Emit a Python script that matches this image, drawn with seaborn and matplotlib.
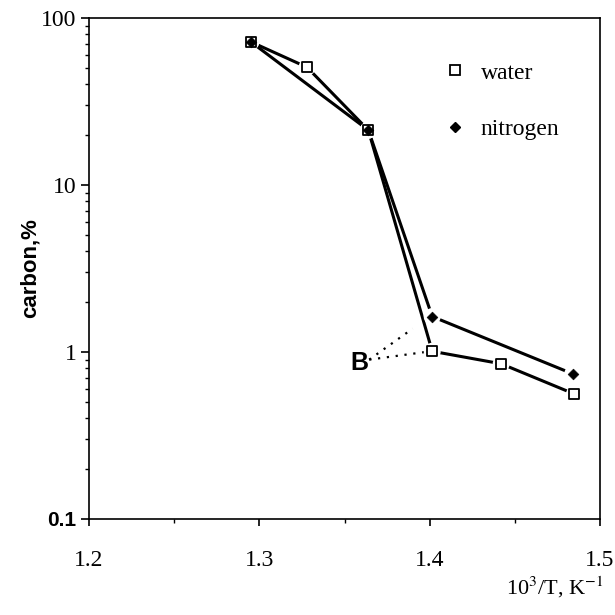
import matplotlib
matplotlib.use("Agg")
import matplotlib.pyplot as plt
import seaborn as sns
import pandas as pd
from matplotlib.lines import Line2D
from matplotlib.ticker import FixedLocator, FixedFormatter, NullFormatter, LogLocator

# ---- data ----
water_x = [1.295, 1.328, 1.364, 1.4015, 1.442, 1.485]
water_y = [72, 50.7, 21.3, 1.01, 0.85, 0.56]
nitrogen_x = [1.295, 1.364, 1.4015, 1.484]
nitrogen_y = [72, 21.3, 1.63, 0.74]
series_names = ["water", "nitrogen"]
x_ticks = [1.2, 1.3, 1.4, 1.5]
x_tick_labels = ["1.2", "1.3", "1.4", "1.5"]
y_ticks = [0.1, 1, 10, 100]
y_tick_labels = ["0.1", "1", "10", "100"]
annot_label = "B"

sns.set_theme(style="ticks")
plt.rcParams["font.family"] = ["Liberation Serif", "DejaVu Serif"]
plt.rcParams["mathtext.fontset"] = "stix"
plt.rcParams["text.color"] = "black"
plt.rcParams["axes.labelcolor"] = "black"
plt.rcParams["xtick.color"] = "black"
plt.rcParams["ytick.color"] = "black"

df = pd.concat([
    pd.DataFrame({"x": water_x, "y": water_y, "series": series_names[0]}),
    pd.DataFrame({"x": nitrogen_x, "y": nitrogen_y, "series": series_names[1]}),
])

fig = plt.figure(figsize=(6.15, 6.15), dpi=100)
ax = fig.add_axes([89/615, 1-519/615, 511/615, 501/615])

# lines
sns.lineplot(data=df, x="x", y="y", hue="series", palette=["black", "black"],
             sort=False, estimator=None, lw=2.2, legend=False, ax=ax, zorder=2)
# white halos to create gaps around markers
sns.scatterplot(data=df, x="x", y="y", marker="o", s=150, color="white",
                edgecolor="none", legend=False, ax=ax, zorder=3)
# markers
wdf = df[df.series == series_names[0]]
ndf = df[df.series == series_names[1]]
sns.scatterplot(data=wdf, x="x", y="y", marker="s", s=60, facecolor="white",
                edgecolor="black", linewidth=1.3, legend=False, ax=ax, zorder=4)
sns.scatterplot(data=ndf, x="x", y="y", marker="D", s=30, color="black",
                edgecolor="black", legend=False, ax=ax, zorder=5)

ax.set_yscale("log")
ax.set_xlim(1.2, 1.5)
ax.set_ylim(0.1, 100)

ax.xaxis.set_major_locator(FixedLocator(x_ticks))
ax.xaxis.set_major_formatter(FixedFormatter(x_tick_labels))
ax.xaxis.set_minor_locator(FixedLocator([1.25, 1.35, 1.45]))
ax.yaxis.set_major_locator(FixedLocator(y_ticks))
ax.yaxis.set_major_formatter(FixedFormatter(y_tick_labels))
ax.yaxis.set_minor_locator(LogLocator(base=10, subs=range(2, 10)))
ax.yaxis.set_minor_formatter(NullFormatter())

ax.tick_params(axis="x", which="major", direction="out", length=5, width=1.2,
               pad=17, labelsize=17, colors="black")
ax.tick_params(axis="x", which="minor", direction="out", length=3, width=1)
ax.tick_params(axis="y", which="major", direction="out", length=6, width=1.2,
               pad=3, labelsize=17, colors="black")
ax.tick_params(axis="y", which="minor", direction="out", length=3, width=1)

for s in ax.spines.values():
    s.set_color("black")
    s.set_linewidth(1.2)
    s.set_visible(True)

ax.set_xlabel("")
ax.set_ylabel("carbon,%", fontsize=16, fontweight="bold", color="black",
              family=["Liberation Sans", "DejaVu Sans"])
ax.yaxis.set_label_coords(-0.095, 0.5)

fig.canvas.draw()
lbl = ax.get_yticklabels()[0]
lbl.set_fontfamily(["Liberation Sans", "DejaVu Sans"])
lbl.set_fontweight("bold")
lbl.set_fontsize(15)

fig.text(555/615, 1-587/615, r"10$^{3}$/T, K$^{-1}$", fontsize=16,
         ha="center", va="center", color="black")

# annotation B
ax.text(1.3585, 0.86, annot_label, fontsize=18, fontweight="bold", color="black",
        family=["Liberation Sans", "DejaVu Sans"], ha="center", va="center", zorder=6)
ax.plot([1.3645, 1.390], [0.90, 1.38], ls=(0, (1, 3)), color="black", lw=1.6)
ax.plot([1.3645, 1.3975], [0.90, 1.0], ls=(0, (1, 3)), color="black", lw=1.6)

handles = [
    Line2D([], [], ls="none", marker="s", markersize=7, markerfacecolor="white",
           markeredgecolor="black", markeredgewidth=1.3),
    Line2D([], [], ls="none", marker="D", markersize=5, color="black"),
]
leg = ax.legend(handles, series_names, loc="upper left",
                bbox_to_anchor=(443/615, 1-62/615), bbox_transform=fig.transFigure,
                frameon=False, fontsize=17, handlelength=1.0, handletextpad=0.6,
                labelspacing=1.5, borderpad=0, borderaxespad=0)
for t in leg.get_texts():
    t.set_color("black")

fig.savefig("out.png", dpi=100, facecolor="white")
